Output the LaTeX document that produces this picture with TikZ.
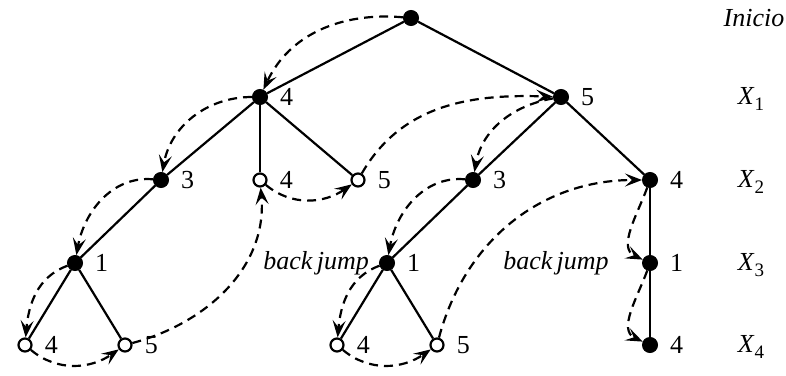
\documentclass[tikz,border=0pt]{standalone}
\usepackage{fontspec}
\setmainfont{Liberation Serif}
\usetikzlibrary{arrows.meta}
\tikzset{
  fullnode/.style={circle,fill=black,draw=black,line width=1pt,minimum size=15pt,inner sep=0pt},
  hollownode/.style={circle,fill=white,draw=black,line width=2.2pt,minimum size=13pt,inner sep=0pt},
  treeline/.style={line width=2.2pt},
  jumparrow/.style={line width=2.2pt,dash pattern=on 9pt off 6pt,-{Stealth[length=17pt,width=13pt,inset=7pt]}},
  lab/.style={font=\fontsize{26}{30}\selectfont,inner sep=0pt}
}
\begin{document}
\begin{tikzpicture}[x=1pt,y=-1pt,
  every label/.style={lab},
  label distance=12pt]
\useasboundingbox (0,0) rectangle (786,375);
% nodes
\node[fullnode] (r) at (411,18) {};
\node[fullnode,label=right:4] (a) at (260,97) {};
\node[fullnode,label=right:5] (b) at (561,97) {};
\node[fullnode,label=right:3] (a1) at (161,180) {};
\node[hollownode,label=right:4] (a2) at (260,180) {};
\node[hollownode,label=right:5] (a3) at (358,180) {};
\node[fullnode,label=right:3] (b1) at (473,180) {};
\node[fullnode,label=right:4] (b2) at (650,180) {};
\node[fullnode,label=right:1] (a11) at (75,263) {};
\node[fullnode,label=right:1] (b11) at (387,263) {};
\node[fullnode,label=right:1] (b21) at (650,263) {};
\node[hollownode,label=right:4] (l1) at (25,345) {};
\node[hollownode,label=right:5] (l2) at (125,345) {};
\node[hollownode,label=right:4] (l3) at (337,345) {};
\node[hollownode,label=right:5] (l4) at (437,345) {};
\node[fullnode,label=right:4] (l5) at (650,345) {};
% side labels
\node[lab,font=\fontsize{26}{30}\selectfont\itshape] (t0) at (754,18) {Inicio};
\node[lab] (t1) at (751,99) {\textit{X}\raisebox{-0.22em}{\fontsize{19}{21}\selectfont 1}};
\node[lab] (t2) at (751,182) {\textit{X}\raisebox{-0.22em}{\fontsize{19}{21}\selectfont 2}};
\node[lab] (t3) at (751,265) {\textit{X}\raisebox{-0.22em}{\fontsize{19}{21}\selectfont 3}};
\node[lab] (t4) at (751,347) {\textit{X}\raisebox{-0.22em}{\fontsize{19}{21}\selectfont 4}};
\node[lab,font=\fontsize{26}{30}\selectfont\itshape,anchor=east] (bj1) at (369,263) {back\,jump};
\node[lab,font=\fontsize{26}{30}\selectfont\itshape] (bj2) at (556,263) {back\,jump};
% edges
\draw[treeline] (r) -- (a);
\draw[treeline] (r) -- (b);
\draw[treeline] (a) -- (a1);
\draw[treeline] (a) -- (a2);
\draw[treeline] (a) -- (a3);
\draw[treeline] (a1) -- (a11);
\draw[treeline] (a11) -- (l1);
\draw[treeline] (a11) -- (l2);
\draw[treeline] (b) -- (b1);
\draw[treeline] (b) -- (b2);
\draw[treeline] (b1) -- (b11);
\draw[treeline] (b11) -- (l3);
\draw[treeline] (b11) -- (l4);
\draw[treeline] (b2) -- (b21);
\draw[treeline] (b21) -- (l5);
% jumps
\draw[jumparrow] (r) to[out=175,in=65] (a);
\draw[jumparrow] (a) to[out=180,in=80] (a1);
\draw[jumparrow] (a1) to[out=175,in=80] (a11);
\draw[jumparrow] (a11) to[out=200,in=85] (l1);
\draw[jumparrow] (l1) to[out=-40,in=-145] (l2);
\draw[jumparrow] (l2) to[out=15,in=-85] (a2);
\draw[jumparrow] (a2) to[out=-40,in=-145] (a3);
\draw[jumparrow] (a3) to[out=60,in=178] (b);
\draw[jumparrow] (b) to[out=190,in=80] (b1);
\draw[jumparrow] (b1) to[out=175,in=80] (b11);
\draw[jumparrow] (b11) to[out=200,in=85] (l3);
\draw[jumparrow] (l3) to[out=-40,in=-145] (l4);
\draw[jumparrow] (l4) to[out=75,in=180] (b2);
\draw[jumparrow] (b2) to[out=-110,in=155] (b21);
\draw[jumparrow] (b21) to[out=-110,in=155] (l5);
\end{tikzpicture}
\end{document}
